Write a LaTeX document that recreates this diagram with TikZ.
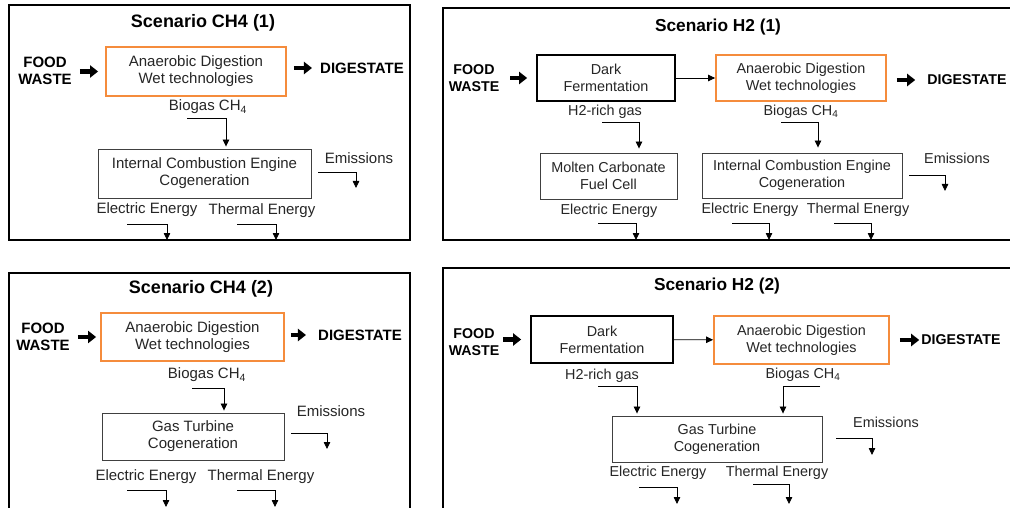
\documentclass[tikz,border=0pt]{standalone}
\usepackage{fontspec}
\setmainfont{Liberation Sans}
\usetikzlibrary{arrows.meta}
\definecolor{adorange}{RGB}{245,140,60}

\begin{document}
\begin{tikzpicture}[x=1pt,y=-1pt,
    txt/.style={font=\fontsize{15}{17}\selectfont,text=black!85,align=center,inner sep=0pt},
    ttl/.style={font=\bfseries\fontsize{18}{21}\selectfont,inner sep=0pt},
    bold/.style={font=\bfseries\fontsize{15}{17.5}\selectfont,align=center,inner sep=0pt},
    unit/.style={txt,draw=black!75,line width=0.9pt},
    adbox/.style={txt,draw=adorange,line width=1.8pt},
    dfbox/.style={txt,draw=black,line width=1.7pt},
    frame/.style={draw=black,line width=1.6pt},
    fat/.style={line width=4.5pt,-{Triangle[length=8pt,width=12pt]}},
    arr/.style={line width=0.8pt,-{Triangle[length=7pt,width=6.5pt]}}]
            \path[use as bounding box,fill=white] (0,0) rectangle (1010,508);

            % frames
            \draw[frame] (9,5) rectangle (410,240);
            \draw[frame] (443,8) rectangle (1016,240);
            \draw[frame] (9,273) rectangle (410,516);
            \draw[frame] (443,268) rectangle (1016,516);

            % Scenario CH4 (1)
            \node[ttl] (title1) at (203,23) {Scenario CH4 (1)};
            \node[bold] (food1) at (45,71) {FOOD\\WASTE};
            \node[adbox,minimum width=180pt,minimum height=49pt] (ad1) at (196,71.5) {Anaerobic Digestion\\Wet technologies};
            \node[bold] (dig1) at (362,68) {DIGESTATE};
            \node[txt] (bio1) at (208,107) {Biogas CH\textsubscript{4}};
            \node[unit,minimum width=213pt,minimum height=49pt] (ice1) at (204.5,173.5) {Internal Combustion Engine\\Cogeneration};
            \node[txt] (emi1) at (359,158) {Emissions};
            \node[txt] (ele1) at (147,210) {Electric Energy};
            \node[txt] (the1) at (262,211) {Thermal Energy};

            \draw[fat,shorten <=8pt,shorten >=7pt] (food1.east |- ad1) -- (ad1.west);
            \draw[fat,shorten <=7pt,shorten >=8pt] (ad1.east |- dig1) -- (dig1.west);
            \coordinate (bio1s) at (187,118);
            \draw[arr,shorten >=2pt] (bio1s) -| ([xshift=21.5pt]ice1.north);
            \coordinate (emi1s) at (318,172);
            \coordinate (emi1e) at (356,188);
            \draw[arr] (emi1s) -| (emi1e);
            \coordinate (ele1s) at (127,224);
            \coordinate (ele1e) at (167,240);
            \draw[arr] (ele1s) -| (ele1e);
            \coordinate (the1s) at (237,224);
            \coordinate (the1e) at (276,240);
            \draw[arr] (the1s) -| (the1e);

            % Scenario CH4 (2)
            \node[ttl] (title3) at (201,289) {Scenario CH4 (2)};
            \node[bold] (food3) at (43,337) {FOOD\\WASTE};
            \node[adbox,minimum width=183pt,minimum height=48pt] (ad3) at (192.5,337) {Anaerobic Digestion\\Wet technologies};
            \node[bold] (dig3) at (360,335) {DIGESTATE};
            \node[txt] (bio3) at (207,375) {Biogas CH\textsubscript{4}};
            \node[unit,minimum width=182pt,minimum height=47pt] (gt3) at (193,436.5) {Gas Turbine\\Cogeneration};
            \node[txt] (emi3) at (331,411) {Emissions};
            \node[txt] (ele3) at (146,477) {Electric Energy};
            \node[txt] (the3) at (261,477) {Thermal Energy};

            \draw[fat,shorten <=8pt,shorten >=4pt] (food3.east |- ad3) -- (ad3.west);
            \draw[fat,shorten <=6pt,shorten >=12pt] (ad3.east |- dig3) -- (dig3.west);
            \coordinate (bio3s) at (192,388);
            \draw[arr,shorten >=2pt] (bio3s) -| ([xshift=31pt]gt3.north);
            \coordinate (emi3s) at (291,433);
            \coordinate (emi3e) at (327,449);
            \draw[arr] (emi3s) -| (emi3e);
            \coordinate (ele3s) at (127,490);
            \coordinate (ele3e) at (166,507);
            \draw[arr] (ele3s) -| (ele3e);
            \coordinate (the3s) at (237,490);
            \coordinate (the3e) at (275,507);
            \draw[arr] (the3s) -| (the3e);

            % right-hand panels are set a little smaller
            \begin{scope}[txt/.append style={font=\fontsize{14.4}{17}\selectfont},
                ttl/.append style={font=\bfseries\fontsize{17.3}{20}\selectfont},
                bold/.append style={font=\bfseries\fontsize{14.2}{17}\selectfont}]

            % Scenario H2 (1)
            \node[ttl] (title2) at (718,27) {Scenario H2 (1)};
            \node[bold] (food2) at (474,78.5) {FOOD\\WASTE};
            \node[dfbox,minimum width=138pt,minimum height=46pt] (df2) at (606,78) {Dark\\Fermentation};
            \node[adbox,minimum width=170pt,minimum height=46pt] (ad2) at (801,78) {Anaerobic Digestion\\Wet technologies};
            \node[bold] (dig2) at (967,80) {DIGESTATE};
            \node[txt] (h2gas2) at (605,112) {H2-rich gas};
            \node[txt] (bio2) at (801,112) {Biogas CH\textsubscript{4}};
            \node[unit,minimum width=137pt,minimum height=46pt] (mcfc2) at (608.5,176) {Molten Carbonate\\Fuel Cell};
            \node[unit,minimum width=200pt,minimum height=45pt] (ice2) at (802,175.5) {Internal Combustion Engine\\Cogeneration};
            \node[txt] (emi2) at (957,158) {Emissions};
            \node[txt] (ele2a) at (609,211) {Electric Energy};
            \node[txt] (ele2b) at (750,210) {Electric Energy};
            \node[txt] (the2) at (858,210) {Thermal Energy};

            \draw[fat,shorten <=11pt,shorten >=9pt] (food2.east |- df2) -- (df2.west);
            \draw[arr] (df2) -- (ad2);
            \draw[fat,shorten <=10pt,shorten >=12pt] (ad2.east |- dig2) -- (dig2.west);
            \coordinate (h2gas2s) at (602,122);
            \draw[arr,shorten >=4pt] (h2gas2s) -| ([xshift=30.5pt]mcfc2.north);
            \coordinate (bio2s) at (781,122);
            \draw[arr,shorten >=5pt] (bio2s) -| ([xshift=16pt]ice2.north);
            \coordinate (emi2s) at (909,175);
            \coordinate (emi2e) at (945,191);
            \draw[arr] (emi2s) -| (emi2e);
            \coordinate (ele2as) at (598,223);
            \coordinate (ele2ae) at (636,240);
            \draw[arr] (ele2as) -| (ele2ae);
            \coordinate (ele2bs) at (732,223);
            \coordinate (ele2be) at (769,240);
            \draw[arr] (ele2bs) -| (ele2be);
            \coordinate (the2s) at (834,223);
            \coordinate (the2e) at (871,240);
            \draw[arr] (the2s) -| (the2e);

            % Scenario H2 (2)
            \node[ttl] (title4) at (717,286) {Scenario H2 (2)};
            \node[bold] (food4) at (474,342) {FOOD\\WASTE};
            \node[dfbox,minimum width=142pt,minimum height=47pt] (df4) at (602,339.5) {Dark\\Fermentation};
            \node[adbox,minimum width=175pt,minimum height=48pt] (ad4) at (801.5,340) {Anaerobic Digestion\\Wet technologies};
            \node[bold] (dig4) at (961,340) {DIGESTATE};
            \node[txt] (h2gas4) at (602,376) {H2-rich gas};
            \node[txt] (bio4) at (803,375) {Biogas CH\textsubscript{4}};
            \node[unit,minimum width=210pt,minimum height=46pt] (gt4) at (717,439) {Gas Turbine\\Cogeneration};
            \node[txt] (emi4) at (886,422) {Emissions};
            \node[txt] (ele4) at (658,473) {Electric Energy};
            \node[txt] (the4) at (777,473) {Thermal Energy};

            \draw[fat,shorten <=4pt,shorten >=9pt] (food4.east |- df4) -- (df4.west);
            \draw[arr] (df4) -- (ad4);
            \draw[fat,shorten <=10pt,shorten >=2pt] (ad4.east |- dig4) -- (dig4.west);
            \coordinate (h2gas4s) at (598,386);
            \draw[arr,shorten >=2pt] (h2gas4s) -| ([xshift=-80pt]gt4.north);
            \coordinate (bio4s) at (820,386);
            \draw[arr,shorten >=2pt] (bio4s) -| ([xshift=66pt]gt4.north);
            \coordinate (emi4s) at (836,438);
            \coordinate (emi4e) at (872,455);
            \draw[arr] (emi4s) -| (emi4e);
            \coordinate (ele4s) at (639,487);
            \coordinate (ele4e) at (677,504);
            \draw[arr] (ele4s) -| (ele4e);
            \coordinate (the4s) at (753,484);
            \coordinate (the4e) at (789,504);
            \draw[arr] (the4s) -| (the4e);
            \end{scope}
        \end{tikzpicture}
\end{document}
